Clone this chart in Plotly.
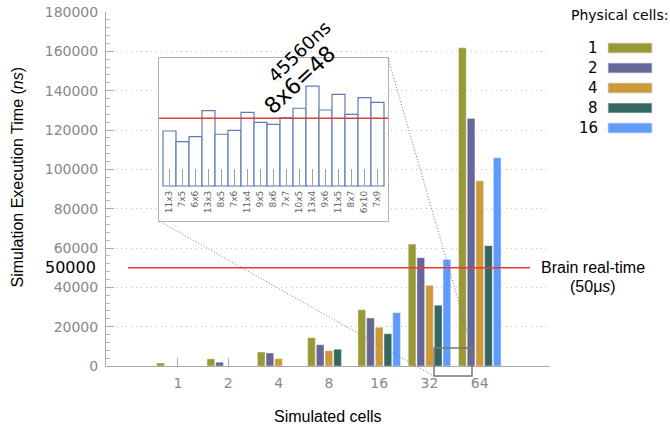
import plotly.graph_objects as go

# ---------------- data ----------------
categories = ["1", "2", "4", "8", "16", "32", "64"]
series_names = ["1", "2", "4", "8", "16"]
series_colors = ["#999937", "#666699", "#cc9a3a", "#356860", "#5f9aff"]
phys_1 = [1500, 3600, 7100, 14400, 28600, 62000, 161800]
phys_2 = [None, 1900, 6600, 10800, 24400, 55100, 125900]
phys_4 = [None, None, 3700, 7800, 19700, 41000, 94200]
phys_8 = [None, None, None, 8500, 16400, 30900, 61200]
phys_16 = [None, None, None, None, 27100, 54200, 105900]
series_values = [phys_1, phys_2, phys_4, phys_8, phys_16]

inset_labels = ["11x3", "7x5", "6x6", "13x3", "8x5", "7x6", "11x4", "9x5", "8x6",
                "7x7", "10x5", "13x4", "9x6", "11x5", "8x7", "6x10", "7x9"]
inset_values = [40600, 32700, 36400, 55600, 38200, 41100, 54400, 47000, 45560,
                50400, 57400, 73800, 56100, 67700, 52900, 65200, 61800]
realtime_ns = 50000
y_ticks = [0, 20000, 40000, 60000, 80000, 100000, 120000, 140000, 160000, 180000]
y_ticktext = [str(v) for v in y_ticks]

# ---------------- geometry helpers ----------------
W, H = 670, 429
L, R, T, B = 106, 550, 12, 366


def px(x):
    return (x - L) / (R - L)


def py(y):
    return (B - y) / (B - T)


FONT = "DejaVu Sans"
FONT2 = "Liberation Sans"

fig = go.Figure()

xpos = list(range(len(categories)))
for name, color, vals in zip(series_names, series_colors, series_values):
    fig.add_trace(go.Bar(x=xpos, y=vals, name=name,
                         marker=dict(color=color, line=dict(width=0.6, color="rgba(255,255,255,0.6)")),
                         showlegend=False))

ipos = list(range(len(inset_labels)))
fig.add_trace(go.Bar(x=ipos, y=inset_values, width=[1] * len(ipos), xaxis="x2", yaxis="y2",
                     marker=dict(color="white", line=dict(color="#5b7cb6", width=1.2)),
                     showlegend=False))

# inset geometry (pixels): frame 159..388 x 58..221, bars 163..384, baseline at y=186
ns_per_px = 738.4
inset_unit_px = 13.0
x2_lo = -0.5 - (163 - 159) / inset_unit_px
x2_hi = len(ipos) - 0.5 + (388 - 384) / inset_unit_px
y2_lo = -(221 - 186) * ns_per_px
y2_hi = (186 - 58) * ns_per_px

fig.update_layout(
    template="plotly_white",
    width=W, height=H,
    margin=dict(l=L, r=W - R, t=T, b=H - B, autoexpand=False),
    paper_bgcolor="white", plot_bgcolor="white",
    font=dict(family=FONT, size=14, color="#888888"),
    barmode="group", bargap=0.135, bargroupgap=0.12,
    xaxis=dict(range=[-1.431, 7.396], tickvals=xpos, ticktext=categories, automargin=False,
               ticks="inside", ticklen=8, tickcolor="#aaaaaa", showline=True,
               linecolor="#aaaaaa", showgrid=False, zeroline=False, layer="below traces",
               tickfont=dict(family=FONT, size=14, color="#888888"), ticklabelstandoff=4),
    yaxis=dict(range=[0, 180000], tickvals=y_ticks, ticktext=y_ticktext, ticks="inside", ticklen=8,
               tickcolor="#aaaaaa", showline=True, linecolor="#aaaaaa", automargin=False,
               showgrid=True, gridcolor="#c4c4c4", griddash="1px,4px", gridwidth=1,
               zeroline=False, layer="below traces",
               minor=dict(dtick=4000, ticks="inside", ticklen=4, tickcolor="#bbbbbb", showgrid=False),
               tickfont=dict(family=FONT, size=14, color="#888888"), ticklabelstandoff=4),
    xaxis2=dict(domain=[px(159), px(388)], anchor="free", position=py(186),
                range=[x2_lo, x2_hi], automargin=False,
                tickvals=ipos, ticktext=inset_labels, tickangle=-90, ticks="inside",
                ticklen=17, tickcolor="#a0a0a0", showline=False, showgrid=False, zeroline=False,
                tickfont=dict(family=FONT, size=9, color="#666666"), ticklabelstandoff=2),
    yaxis2=dict(domain=[py(221), py(58)], anchor="x2", range=[y2_lo, y2_hi], visible=False,
                automargin=False, showgrid=False, zeroline=False),
)

shapes = [
    # inset frame (drawn in the inset subplot, above the main grid, below inset bars)
    dict(type="rect", xref="x2 domain", yref="y2 domain", x0=0, x1=1, y0=0, y1=1,
         fillcolor="white", line=dict(color="#999999", width=1.5), layer="below"),
    # zoom box
    dict(type="rect", xref="paper", yref="paper", x0=px(434), x1=px(472), y0=py(376), y1=py(348),
         line=dict(color="#777777", width=1.5), layer="above"),
    # connectors
    dict(type="line", xref="paper", yref="paper", x0=px(159), y0=py(221), x1=px(434), y1=py(376),
         line=dict(color="#777777", width=1, dash="1px,2px")),
    dict(type="line", xref="paper", yref="paper", x0=px(388), y0=py(58), x1=px(472), y1=py(348),
         line=dict(color="#777777", width=1, dash="1px,2px")),
    # real-time lines
    dict(type="line", xref="paper", yref="y", x0=px(128), x1=px(530), y0=realtime_ns, y1=realtime_ns,
         line=dict(color="#e8393a", width=1.5)),
    dict(type="line", xref="paper", yref="y2", x0=px(159), x1=px(388), y0=realtime_ns, y1=realtime_ns,
         line=dict(color="#e8393a", width=1.5)),
]

annotations = [
    dict(text="50000", xref="paper", yref="y", x=px(98), y=realtime_ns, xanchor="right",
         yanchor="middle", showarrow=False, font=dict(family=FONT, size=16, color="black")),
    dict(text="Brain real-time", xref="paper", yref="paper", x=px(593), y=py(267),
         xanchor="center", yanchor="middle", showarrow=False,
         font=dict(family=FONT2, size=16, color="black")),
    dict(text="(50\u03bc<i>s</i>)", xref="paper", yref="paper", x=px(593), y=py(286),
         xanchor="center", yanchor="middle", showarrow=False,
         font=dict(family=FONT2, size=16, color="black")),
    dict(text="Simulation Execution Time (<i>ns</i>)", xref="paper", yref="paper", x=px(17),
         y=py(177.5), xanchor="center", yanchor="middle", textangle=-90, showarrow=False,
         font=dict(family=FONT2, size=16, color="black")),
    dict(text="Simulated cells", xref="paper", yref="paper", x=px(328), y=py(416),
         xanchor="center", yanchor="middle", showarrow=False,
         font=dict(family=FONT2, size=16, color="black")),
    dict(text="45560ns", xref="paper", yref="paper", x=px(299), y=py(51), xanchor="center",
         yanchor="middle", textangle=-44, showarrow=False,
         font=dict(family=FONT, size=18, color="black")),
    dict(text="8x6=48", xref="paper", yref="paper", x=px(299), y=py(80), xanchor="center",
         yanchor="middle", textangle=-43, showarrow=False,
         font=dict(family=FONT, size=22, color="black")),
    dict(text="Physical cells:", xref="paper", yref="paper", x=px(569), y=py(15), xanchor="left",
         yanchor="middle", showarrow=False, font=dict(family=FONT, size=14, color="black")),
]

# custom legend (numbers right-aligned, swatches to the right)
for i, (name, color) in enumerate(zip(series_names, series_colors)):
    yc = 48 + 20 * i
    annotations.append(dict(text=name, xref="paper", yref="paper", x=px(599.5), y=py(yc),
                            xanchor="right", yanchor="middle", showarrow=False,
                            font=dict(family=FONT, size=15, color="black")))
    shapes.append(dict(type="rect", xref="paper", yref="paper", x0=px(608), x1=px(652),
                       y0=py(yc + 5), y1=py(yc - 5), fillcolor=color,
                       line=dict(color="#dddddd", width=0.8)))

fig.update_layout(shapes=shapes, annotations=annotations)
fig.write_html("out.html", config={"displayModeBar": False},
               post_script="document.body.style.margin='0';")
